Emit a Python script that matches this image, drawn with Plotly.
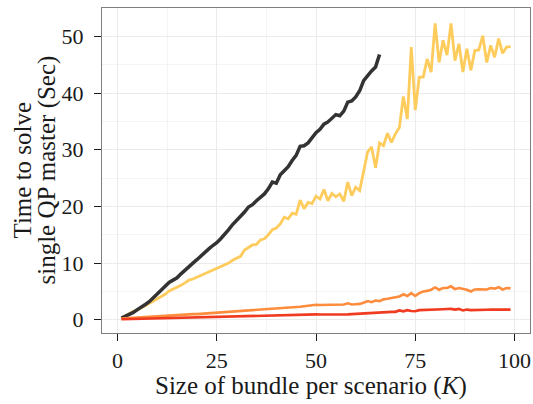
import plotly.graph_objects as go

# Size of bundle per scenario (K)
k_all = list(range(1, 100))
k_black = list(range(1, 67))

black_vals = [0.3, 0.6, 0.9, 1.3, 1.8, 2.2, 2.7, 3.2, 3.9, 4.5,
              5.2, 5.9, 6.6, 7.0, 7.4, 8.1, 8.8, 9.4, 10.0, 10.6,
              11.3, 11.9, 12.5, 13.1, 13.6, 14.3, 15.0, 15.9, 16.8, 17.5,
              18.2, 19.0, 19.9, 20.3, 21.0, 21.6, 22.2, 23.1, 24.3, 24.1,
              25.6, 26.3, 27.0, 28.1, 29.0, 30.6, 30.7, 31.2, 32.1, 33.0,
              33.6, 34.5, 34.9, 35.6, 36.2, 36.0, 36.8, 38.4, 38.6, 39.3,
              40.4, 42.2, 43.1, 43.9, 44.6, 46.8]

yellow_vals = [0.3, 0.7, 1.0, 1.5, 1.7, 2.1, 2.4, 2.8, 3.3, 3.7,
               4.0, 4.5, 5.1, 5.4, 5.8, 6.1, 6.5, 7.0, 7.2, 7.5,
               7.8, 8.1, 8.5, 8.7, 9.0, 9.4, 9.6, 10.0, 10.5, 10.9,
               11.2, 12.3, 12.8, 13.2, 13.3, 14.1, 14.3, 15.0, 15.9, 16.2,
               16.9, 18.1, 17.8, 18.8, 18.6, 21.1, 19.6, 20.7, 20.5, 21.8,
               21.3, 23.0, 21.0, 22.3, 21.7, 22.2, 20.9, 24.3, 21.9, 23.4,
               22.8, 26.3, 29.6, 30.5, 26.8, 31.2, 30.7, 32.9, 31.3, 32.8,
               33.9, 39.4, 35.4, 48.1, 37.0, 42.8, 42.8, 46.0, 43.7, 52.3,
               45.4, 49.3, 46.7, 52.3, 45.7, 48.7, 43.7, 47.8, 44.0, 47.5,
               47.6, 50.1, 45.4, 48.4, 46.3, 49.6, 47.0, 48.1, 48.2]

orange_vals = [0.2, 0.25, 0.3, 0.35, 0.4, 0.45, 0.5, 0.5, 0.55, 0.6,
               0.65, 0.7, 0.75, 0.8, 0.8, 0.85, 0.9, 0.95, 1.0, 1.0,
               1.05, 1.1, 1.15, 1.2, 1.25, 1.3, 1.35, 1.4, 1.45, 1.5,
               1.5, 1.55, 1.6, 1.65, 1.7, 1.75, 1.8, 1.85, 1.9, 1.95,
               2.0, 2.0, 2.1, 2.2, 2.25, 2.3, 2.4, 2.5, 2.55, 2.65,
               2.6, 2.6, 2.65, 2.6, 2.65, 2.6, 2.7, 2.9, 2.7, 2.75,
               2.8, 3.0, 3.3, 3.1, 3.4, 3.3, 3.6, 3.7, 3.8, 3.9,
               4.1, 4.5, 4.2, 4.7, 4.2, 4.7, 5.0, 5.1, 5.3, 5.7,
               5.3, 5.6, 5.6, 5.9, 5.4, 5.6, 5.5, 5.3, 5.0, 5.35,
               5.4, 5.4, 5.35, 5.6, 5.5, 5.75, 5.35, 5.6, 5.55]

red_vals = [0.1, 0.12, 0.14, 0.15, 0.17, 0.18, 0.2, 0.21, 0.23, 0.25,
            0.26, 0.28, 0.3, 0.31, 0.33, 0.34, 0.36, 0.37, 0.39, 0.4,
            0.42, 0.44, 0.45, 0.47, 0.48, 0.5, 0.52, 0.54, 0.56, 0.6,
            0.6, 0.62, 0.64, 0.65, 0.67, 0.69, 0.7, 0.72, 0.73, 0.75,
            0.77, 0.78, 0.8, 0.82, 0.84, 0.86, 0.88, 0.9, 0.93, 0.95,
            0.93, 0.93, 0.95, 0.93, 0.93, 0.9, 0.85, 0.95, 1.0, 1.05,
            1.1, 1.15, 1.15, 1.2, 1.2, 1.25, 1.35, 1.35, 1.4, 1.4,
            1.65, 1.5, 1.7, 1.55, 1.5, 1.7, 1.75, 1.8, 1.8, 1.87,
            1.85, 1.87, 1.9, 1.93, 1.8, 1.93, 1.65, 1.8, 1.7, 1.75,
            1.75, 1.75, 1.78, 1.8, 1.8, 1.8, 1.8, 1.8, 1.8]

x_ticks = [0, 25, 50, 75, 100]
y_ticks = [0, 10, 20, 30, 40, 50]

FONT = "Liberation Serif"
TXT = "#1A1A1A"

fig = go.Figure()
fig.add_trace(go.Scatter(x=k_all, y=yellow_vals, mode="lines",
                         line=dict(color="#FECC5C", width=2.8), showlegend=False))
fig.add_trace(go.Scatter(x=k_black, y=black_vals, mode="lines",
                         line=dict(color="#333333", width=3.5), showlegend=False))
fig.add_trace(go.Scatter(x=k_all, y=orange_vals, mode="lines",
                         line=dict(color="#FD8D3C", width=2.6), showlegend=False))
fig.add_trace(go.Scatter(x=k_all, y=red_vals, mode="lines",
                         line=dict(color="#F03B20", width=2.6), showlegend=False))

axis_common = dict(
    showline=True, linecolor="#7F7F7F", linewidth=1.2, mirror=True,
    showgrid=True, gridcolor="#EBEBEB", gridwidth=1,
    ticks="outside", ticklen=7, tickwidth=1.3, tickcolor=TXT,
    tickfont=dict(family=FONT, size=22, color=TXT),
    zeroline=False, automargin=False,
    minor=dict(showgrid=True, gridcolor="#F4F4F4", gridwidth=0.8),
)

fig.update_xaxes(range=[-3.9, 103.9], tickvals=x_ticks,
                 minor_tickvals=[12.5, 37.5, 62.5, 87.5], **axis_common)
fig.update_yaxes(range=[-2.33, 55.0], tickvals=y_ticks, ticklabelstandoff=6,
                 minor_tickvals=[5, 15, 25, 35, 45, 55], **axis_common)

L, R, T, B = 102, 3, 8, 71
PW = 533 - L - R
PH = 404 - T - B

fig.add_annotation(text="Size of bundle per scenario (<i>K</i>)",
                   xref="paper", yref="paper", x=(311 - L) / PW, y=(404 - B - 386) / PH,
                   xanchor="center", yanchor="middle", showarrow=False,
                   font=dict(family=FONT, size=25, color=TXT))
fig.add_annotation(text="Time to solve",
                   xref="paper", yref="paper", x=(22 - L) / PW, y=0.5,
                   xanchor="center", yanchor="middle", textangle=-90,
                   showarrow=False,
                   font=dict(family=FONT, size=25, color=TXT))
fig.add_annotation(text="single QP master (Sec)",
                   xref="paper", yref="paper", x=(46 - L) / PW, y=0.5,
                   xanchor="center", yanchor="middle", textangle=-90,
                   showarrow=False,
                   font=dict(family=FONT, size=25, color=TXT))

fig.update_layout(
    width=533, height=404,
    margin=dict(l=L, r=R, t=T, b=B, autoexpand=False),
    paper_bgcolor="white", plot_bgcolor="white",
)

fig.write_html("out.html", config={"displayModeBar": False},
               post_script="document.body.style.margin='0';document.body.style.overflow='hidden';")
